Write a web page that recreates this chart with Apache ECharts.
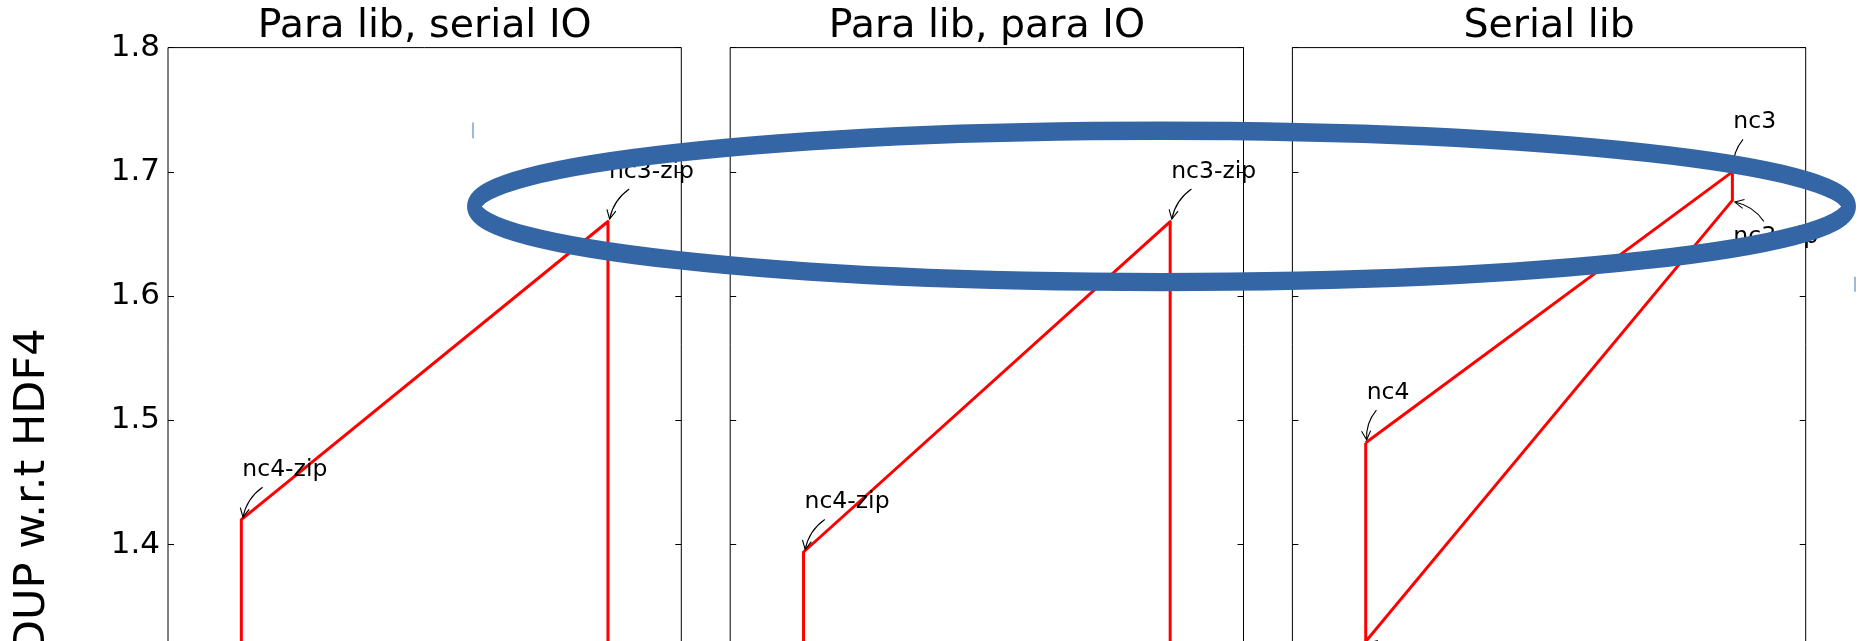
<!DOCTYPE html>
<html>
<head>
<meta charset="utf-8">
<script src="https://cdn.jsdelivr.net/npm/echarts@6/dist/echarts.min.js"></script>
<style>
  html, body { margin: 0; padding: 0; background: #fff; }
  #chart { width: 1860px; height: 641px; }
</style>
</head>
<body>
<div id="chart"></div>
<script>
// ---- data ----
const panelTitles = ['Para lib, serial IO', 'Para lib, para IO', 'Serial lib'];
// formats in the order the outline walks through them
const formats = ['nc4', 'nc3', 'nc3-zip', 'nc4-zip'];
// x position of each format
const formatX = [1, 6, 6, 1];
// speedup w.r.t. HDF4, one value per format
const speedupParaLibSerialIO = [1.18, 1.27, 1.66, 1.42];
const speedupParaLibParaIO = [1.16, 1.25, 1.66, 1.394];
const speedupSerialLib = [1.482, 1.70, 1.677, 1.322];
const yMin = 1.0, yMax = 1.8, yStep = 0.1;
const xMin = 0, xMax = 7;
const yAxisTitle = 'SPEEDUP w.r.t HDF4';

const panelValues = [speedupParaLibSerialIO, speedupParaLibParaIO, speedupSerialLib];

// ---- layout / style ----
const FONT = 'DejaVu Sans';
const GRID_LEFT = 168, GRID_STEP = 562.2, GRID_W = 513.3, GRID_TOP = 47.6, GRID_H = 993.9;
const LABEL_FS = 23.5;
// which side of its point each label is written on
const labelSides = [
  ['below', 'below', 'above', 'above'],
  ['below', 'below', 'above', 'above'],
  ['above', 'above', 'below', 'below']
];
const labelLayout = {
  above: { dx: 1, baseline: -41.5, tailFrac: 0.25, tailDy: -32.5 },
  below: { dx: 1, baseline: 45, tailFrac: 0.37, tailDy: 21 }
};

const measureCtx = document.createElement('canvas').getContext('2d');
measureCtx.font = LABEL_FS + 'px "' + FONT + '"';
function textWidth(t) { return measureCtx.measureText(t).width; }

// curved "->" annotation arrow, bent like an arc3 connection
function arrowShapes(tail, point) {
  const vx = tail[0] - point[0], vy = tail[1] - point[1];
  const vl = Math.hypot(vx, vy);
  const head = [point[0] + vx / vl * 3, point[1] + vy / vl * 3];
  const rad = 0.2;
  const dx = head[0] - tail[0], dy = head[1] - tail[1];
  const mx = (head[0] + tail[0]) / 2, my = (head[1] + tail[1]) / 2;
  const cp = [mx - rad * dy, my + rad * dx];
  let ux = head[0] - cp[0], uy = head[1] - cp[1];
  const ul = Math.hypot(ux, uy); ux /= ul; uy /= ul;
  const len = 10, ang = 27 * Math.PI / 180;
  const barb = s => {
    const c = Math.cos(s * ang), sn = Math.sin(s * ang);
    const rx = ux * c - uy * sn, ry = ux * sn + uy * c;
    return [head[0] - rx * len, head[1] - ry * len];
  };
  return [
    { type: 'bezierCurve', shape: { x1: tail[0], y1: tail[1], x2: head[0], y2: head[1], cpx1: cp[0], cpy1: cp[1] },
      style: { stroke: '#000', lineWidth: 1.1, fill: null } },
    { type: 'polyline', shape: { points: [barb(1), head, barb(-1)] },
      style: { stroke: '#000', lineWidth: 1.1, fill: null } }
  ];
}

const grids = [], xAxes = [], yAxes = [], series = [], titles = [];

panelTitles.forEach((title, i) => {
  const left = GRID_LEFT + i * GRID_STEP;
  grids.push({
    left: left, top: GRID_TOP, width: GRID_W, height: GRID_H,
    containLabel: false, outerBoundsMode: 'none',
    show: true, borderColor: '#000', borderWidth: 1, backgroundColor: 'transparent'
  });
  titles.push({
    text: title, left: left + GRID_W / 2, top: 7, padding: 0, textAlign: 'center',
    textStyle: { fontFamily: FONT, fontSize: 39.5, fontWeight: 'normal', color: '#000' }
  });
  xAxes.push({ type: 'value', gridIndex: i, min: xMin, max: xMax, show: false });
  const tickCommon = {
    type: 'value', gridIndex: i, min: yMin, max: yMax, interval: yStep,
    axisLine: { show: false }, splitLine: { show: false },
    axisTick: { show: true, inside: true, length: 6, lineStyle: { color: '#000', width: 1 } }
  };
  yAxes.push(Object.assign({}, tickCommon, {
    position: 'left',
    axisLabel: {
      show: i === 0, margin: 8, fontFamily: FONT, fontSize: 31, color: '#000',
      formatter: v => v.toFixed(1)
    },
    name: i === 0 ? yAxisTitle : '',
    nameLocation: 'middle', nameGap: 114,
    nameTextStyle: { fontFamily: FONT, fontSize: 43, color: '#000' }
  }));
  yAxes.push(Object.assign({}, tickCommon, { position: 'right', axisLabel: { show: false } }));

  const vals = panelValues[i];
  const loop = formats.map((f, k) => [formatX[k], vals[k]]);
  loop.push(loop[0]);
  series.push({
    type: 'line', xAxisIndex: i, yAxisIndex: 2 * i, data: loop,
    symbol: 'none', silent: true, z: 3,
    lineStyle: { color: '#ff0000', width: 3, join: 'round' }
  });

  series.push({
    type: 'custom', xAxisIndex: i, yAxisIndex: 2 * i, silent: true, z: 4,
    data: formats.map((f, k) => [formatX[k], vals[k], k]),
    renderItem: (params, api) => {
      const k = api.value(2);
      const p = api.coord([api.value(0), api.value(1)]);
      const L = labelLayout[labelSides[i][k]];
      const w = textWidth(formats[k]);
      const tail = [p[0] + L.tailFrac * w, p[1] + L.tailDy];
      return {
        type: 'group',
        children: [{
          type: 'text', x: p[0] + L.dx, y: p[1] + L.baseline - 0.346 * LABEL_FS,
          style: { text: formats[k], fill: '#000', fontFamily: FONT, fontSize: LABEL_FS,
                   align: 'left', verticalAlign: 'middle' }
        }].concat(arrowShapes(tail, p))
      };
    }
  });
});

const chart = echarts.init(document.getElementById('chart'), null, { renderer: 'canvas' });
chart.setOption({
  animation: false,
  backgroundColor: '#fff',
  title: titles,
  grid: grids,
  xAxis: xAxes,
  yAxis: yAxes,
  series: series,
  graphic: [
    {
      type: 'ellipse', x: 1161.5, y: 206.4, scaleY: 1.27, z: 100, silent: true,
      shape: { cx: 0, cy: 0, rx: 687.2, ry: 59.6 },
      style: { fill: null, stroke: '#3465a4', lineWidth: 14.5 }
    },
    {
      type: 'line', z: 100, silent: true,
      shape: { x1: 473, y1: 122.6, x2: 473, y2: 138.2 },
      style: { stroke: '#7f9fcf', lineWidth: 1.5 }
    },
    {
      type: 'line', z: 100, silent: true,
      shape: { x1: 1855, y1: 276.7, x2: 1855, y2: 291.7 },
      style: { stroke: '#7f9fcf', lineWidth: 1.5 }
    }
  ]
});
</script>
</body>
</html>
